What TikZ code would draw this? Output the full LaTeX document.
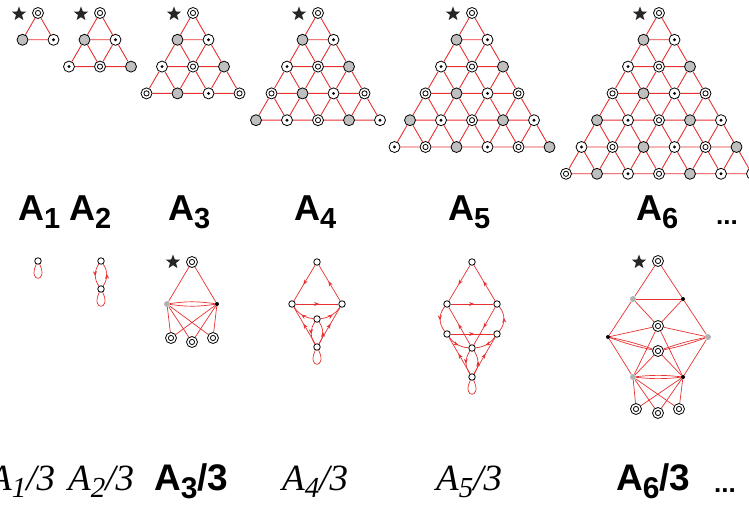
\documentclass[tikz,border=0pt]{standalone}
\usepackage{fontspec}
\usepackage{xcolor}
\usepackage{tikz}
\usetikzlibrary{calc, positioning, backgrounds, shapes.geometric, arrows.meta, decorations.markings}
\newfontfamily\labelsans{Liberation Sans}
\newfontfamily\labelserif{Liberation Serif}
\definecolor{edgered}{RGB}{232,48,48}
\newcommand{\Abold}[1]{{\labelsans\bfseries\fontsize{36}{36}\selectfont A\raisebox{-8pt}{\fontsize{29}{29}\selectfont #1}}}
\newcommand{\Aboldq}[1]{{\labelsans\bfseries\fontsize{37}{37}\selectfont A\raisebox{-8pt}{\fontsize{30}{30}\selectfont #1}/3}}
\newcommand{\Aital}[1]{{\labelserif\itshape\fontsize{37}{37}\selectfont A\raisebox{-7pt}{\fontsize{29}{29}\selectfont #1}/3}}
\tikzset{
  kind0/.style={circle,draw,line width=0.8pt,fill=white,minimum size=11pt,inner sep=0pt,
    path picture={\draw[black,line width=0.8pt] (path picture bounding box.center) circle (2.6pt);}},
  kind1/.style={circle,draw,line width=0.8pt,fill=black!25,minimum size=11pt,inner sep=0pt},
  kind2/.style={circle,draw,line width=0.8pt,fill=white,minimum size=11pt,inner sep=0pt,
    path picture={\fill[black] (path picture bounding box.center) circle (1.6pt);}},
  starmark/.style={star,star points=5,star point ratio=2.4,fill=black!85,inner sep=0pt,minimum size=15pt},
  tri edge/.style={draw=edgered,line width=0.9pt},
  qnode/.style={circle,draw,line width=0.8pt,fill=white,minimum size=6.5pt,inner sep=0pt},
  qgrey/.style={circle,fill=black!30,minimum size=6pt,inner sep=0pt},
  qblack/.style={circle,fill=black,minimum size=4pt,inner sep=0pt},
  qedge/.style={draw=edgered,line width=0.7pt},
  flow/.style={postaction={decorate},decoration={markings,
    mark=at position 0.55 with {\arrow[edgered]{Stealth[length=5pt,width=4pt]}}}},
  label/.style={anchor=base west,inner sep=0pt}
}
\begin{document}
\begin{tikzpicture}[x=1pt,y=1pt]
  \useasboundingbox (0,-505) rectangle (749,0);

  % triangles A_n
  \foreach \n/\tx in {1/38,2/100,3/193,4/318,5/472,6/659} {
    \node[starmark] (star\n) at (\tx-19,-14) {};
    \foreach \r in {0,...,\n} {
      \foreach \k in {0,...,\r} {
        \pgfmathtruncatemacro{\kind}{mod(\r+\k,3)}
        \node[kind\kind] (t\n-\r-\k) at ({\tx+(\k-\r/2)*31},{-13-\r*26.8}) {};
      }
    }
  }
  \begin{scope}[on background layer]
    \foreach \n in {1,...,6} {
      \foreach \r in {1,...,\n} {
        \pgfmathtruncatemacro{\p}{\r-1}
        \foreach \k in {0,...,\p} {
          \pgfmathtruncatemacro{\q}{\k+1}
          \draw[tri edge] (t\n-\p-\k) -- (t\n-\r-\k) -- (t\n-\r-\q) -- (t\n-\p-\k);
        }
      }
    }
  \end{scope}

  \node[label] (lab1) at (18,-220) {\Abold{1}};
  \node[label] (lab2) at (69,-220) {\Abold{2}};
  \node[label] (lab3) at (168,-220) {\Abold{3}};
  \node[label] (lab4) at (294,-220) {\Abold{4}};
  \node[label] (lab5) at (448,-220) {\Abold{5}};
  \node[label] (lab6) at (636,-220) {\Abold{6}};
  \node[label] (labdots) at (716,-224) {\labelsans\bfseries\fontsize{26}{26}\selectfont ...};

  % A_1/3
  \node[qnode] (a1) at (38,-261) {};
  \draw[qedge] (a1) .. controls +(-11,-22) and +(11,-22) .. (a1);

  % A_2/3
  \node[qnode] (b1) at (101,-261) {};
  \node[qnode] (b2) at (101,-289) {};
  \path[qedge]
    (b1) edge[flow,bend right=35] (b2)
    (b2) edge[flow,bend right=35] (b1);
  \draw[qedge] (b2) .. controls +(-11,-22) and +(11,-22) .. (b2);

  % A_3/3
  \node[starmark] (cstar) at (173,-262) {};
  \node[kind0] (c1) at (192,-262) {};
  \node[qgrey] (c2) at (167,-304) {};
  \node[qblack] (c3) at (217,-304) {};
  \node[kind0] (c4) at (171,-338) {};
  \node[kind0] (c5) at (192,-342) {};
  \node[kind0] (c6) at (213,-338) {};
  \begin{scope}[on background layer]
  \path[qedge]
    (c1) edge (c2) edge (c3)
    (c2) edge[bend left=8] (c3) edge[bend right=8] (c3)
    (c2) edge (c4) edge (c5) edge (c6)
    (c3) edge (c4) edge (c5) edge (c6);
  \end{scope}

  % A_4/3
  \node[qnode] (d1) at (317,-262) {};
  \node[qnode] (d2) at (292,-304) {};
  \node[qnode] (d3) at (342,-304) {};
  \node[qnode] (d4) at (317,-319) {};
  \node[qnode] (d5) at (317,-347) {};
  \path[qedge]
    (d1) edge[flow] (d2)
    (d3) edge[flow] (d1)
    (d2) edge[flow] (d3)
    (d4) edge[flow,bend left=25] (d2)
    (d4) edge[flow,bend right=25] (d3)
    (d5) edge[flow] (d2)
    (d5) edge[flow] (d3)
    (d4) edge[flow,bend right=35] (d5)
    (d5) edge[flow,bend right=35] (d4);
  \draw[qedge] (d5) .. controls +(-11,-22) and +(11,-22) .. (d5);

  % A_5/3
  \node[qnode] (e1) at (472,-262) {};
  \node[qnode] (e2) at (447,-304) {};
  \node[qnode] (e3) at (497,-304) {};
  \node[qnode] (e4) at (447,-334) {};
  \node[qnode] (e5) at (497,-334) {};
  \node[qnode] (e6) at (472,-348) {};
  \node[qnode] (e7) at (472,-377) {};
  \path[qedge]
    (e1) edge[flow] (e2)
    (e3) edge[flow] (e1)
    (e2) edge[flow] (e3)
    (e2) edge[flow,bend right=40] (e4)
    (e5) edge[flow,bend right=40] (e3)
    (e6) edge[flow] (e2)
    (e3) edge[flow] (e6)
    (e4) edge[flow] (e5)
    (e4) edge[flow,bend right=25] (e6)
    (e5) edge[flow,bend left=25] (e6)
    (e7) edge[flow] (e4)
    (e7) edge[flow] (e5)
    (e6) edge[flow,bend right=35] (e7)
    (e7) edge[flow,bend right=35] (e6);
  \draw[qedge] (e7) .. controls +(-11,-22) and +(11,-22) .. (e7);

  % A_6/3
  \node[starmark] (fstar) at (639,-262) {};
  \node[kind0] (f1) at (658,-261) {};
  \node[qgrey] (f2) at (633,-299) {};
  \node[qblack] (f3) at (683,-299) {};
  \node[kind0] (f4) at (658,-326) {};
  \node[qblack] (f5) at (608,-337) {};
  \node[qgrey] (f6) at (708,-337) {};
  \node[kind0] (f7) at (658,-351) {};
  \node[qgrey] (f8) at (633,-377) {};
  \node[qblack] (f9) at (683,-377) {};
  \node[kind0] (f10) at (636,-409) {};
  \node[kind0] (f11) at (658,-413) {};
  \node[kind0] (f12) at (679,-409) {};
  \begin{scope}[on background layer]
  \path[qedge]
    (f1) edge (f2) edge (f3)
    (f2) edge (f3) edge (f4) edge (f5)
    (f3) edge (f4) edge (f6)
    (f5) edge (f4) edge (f8)
    (f5) edge[bend left=4] (f7) edge[bend right=4] (f7)
    (f6) edge (f4) edge (f9)
    (f6) edge[bend left=4] (f7) edge[bend right=4] (f7)
    (f4) edge (f8) edge (f9)
    (f7) edge (f8) edge (f9)
    (f8) edge[bend left=6] (f9) edge[bend right=6] (f9)
    (f8) edge (f10) edge (f11) edge (f12)
    (f9) edge (f10) edge (f11) edge (f12);
  \end{scope}

  \node[label] (qlab1) at (-11,-490) {\Aital{1}};
  \node[label] (qlab2) at (68,-490) {\Aital{2}};
  \node[label] (qlab3) at (154,-490) {\Aboldq{3}};
  \node[label] (qlab4) at (282,-490) {\Aital{4}};
  \node[label] (qlab5) at (436,-490) {\Aital{5}};
  \node[label] (qlab6) at (616,-490) {\Aboldq{6}};
  \node[label] (qlabdots) at (714,-492) {\labelsans\bfseries\fontsize{26}{26}\selectfont ...};
\end{tikzpicture}
\end{document}
